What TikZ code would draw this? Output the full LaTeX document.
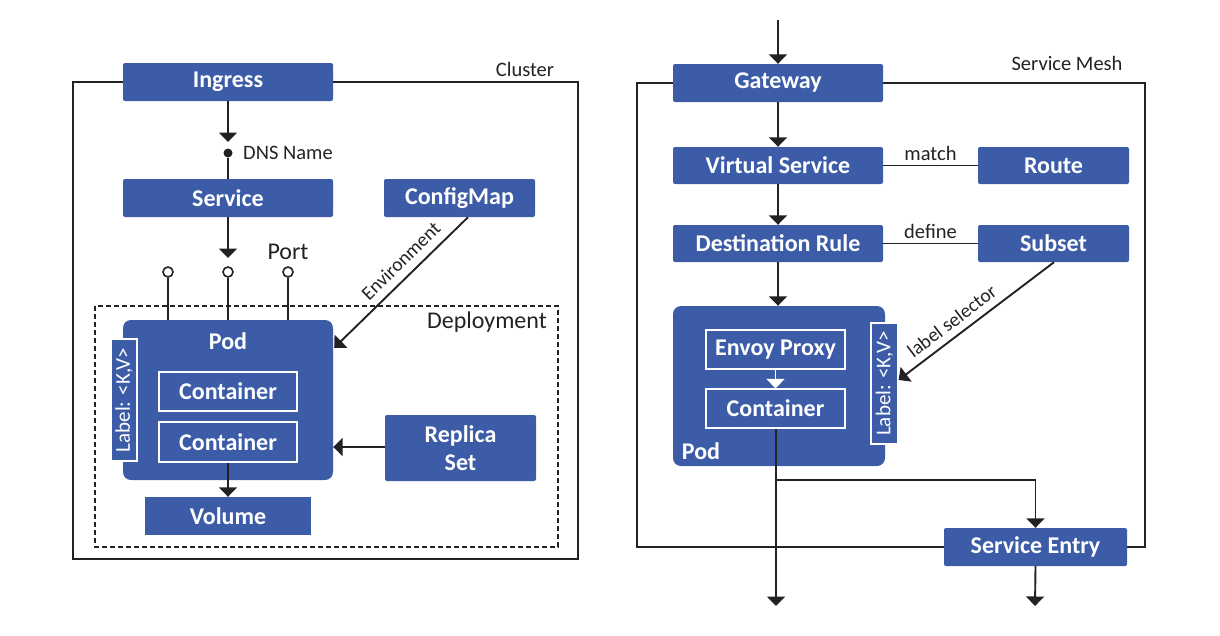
\documentclass[tikz,border=0pt]{standalone}
\usepackage{fontspec}
\setmainfont{Carlito}
\usetikzlibrary{arrows.meta,calc}
\definecolor{kblue}{HTML}{3D5CA8}
\definecolor{kline}{HTML}{222222}
\begin{document}
\begin{tikzpicture}[x=1pt,y=-1pt,
  sz/.style 2 args={minimum width=#1pt,minimum height=#2pt},
  box/.style={fill=kblue,text=white,inner sep=0pt,rounded corners=2pt,font=\fontsize{24}{28}\selectfont\bfseries},
  podbox/.style={fill=kblue,inner sep=0pt,rounded corners=8pt},
  inbox/.style={draw=white,line width=1.2pt,fill=kblue,text=white,inner sep=0pt,font=\fontsize{24}{28}\selectfont\bfseries},
  lblbox/.style={draw=white,line width=1.2pt,fill=kblue,text=white,inner sep=0pt,rotate=90,font=\fontsize{21}{23}\selectfont},
  lab/.style={inner sep=0pt,text=kline,font=\fontsize{20.5}{23}\selectfont},
  slab/.style={inner sep=0pt,text=kline,font=\fontsize{19.5}{22}\selectfont},
  biglab/.style={inner sep=0pt,text=kline,font=\fontsize{24}{26}\selectfont},
  conn/.style={draw=kline,line width=1.9pt},
  arr/.style={conn,-{Triangle[width=18pt,length=9.5pt]}},
  warr/.style={draw=white,line width=1.9pt,-{Triangle[width=18pt,length=9.5pt]}},
  frame/.style={draw=kline,line width=1.9pt},
  port/.style={circle,draw=kline,fill=white,line width=1.6pt,minimum size=10pt,inner sep=0pt},
  dot/.style={circle,fill=kline,minimum size=9pt,inner sep=0pt}
]
\useasboundingbox (0,0) rectangle (1220,635);

% ---------------- left: cluster ----------------
\draw[frame] (73,82) rectangle (578,559);
\draw[frame,dashed,line width=1.5pt,dash pattern=on 5pt off 3pt] (95,306) rectangle (558,547);
\node[lab] (cluster) at (525,69) {Cluster};
\node[biglab,anchor=east] (deploy) at (547,322) {Deployment};

\node[box,sz={210}{38}] (ingress) at (228,82) {Ingress};
\node[box,sz={210}{38}] (service) at (228,198) {Service};
\node[box,sz={151}{38}] (configmap) at (459.5,198) {ConfigMap};
\node[podbox,sz={210}{160}] (pod) at (228,400) {};
\node[inner sep=0pt,text=white,font=\fontsize{24}{28}\selectfont\bfseries] (podt) at (228,341) {Pod};
\node[lblbox,sz={122}{26}] (lbl1) at (124,400) {Label: <K,V>};
\node[inbox,sz={138}{39}] (c1) at (228,391.5) {Container};
\node[inbox,sz={138}{40}] (c2) at (228,442) {Container};
\node[box,rounded corners=0pt,sz={166}{38}] (volume) at (228,516) {Volume};
\node[box,sz={151}{66},align=center] (replica) at (460.5,448) {Replica\\Set};

\node[dot] (dns) at (228,153) {};
\node[lab,anchor=west] (dnst) at (243,153) {DNS Name};
\coordinate (dnstip) at (228,142);
\draw[arr] (ingress.south) -- (dnstip);
\draw[conn] (dns) -- (service.north);

\node[port] (p1) at (168,272) {};
\node[port] (p2) at (228,272) {};
\node[port] (p3) at (288,272) {};
\node[biglab] (portt) at (288,252) {Port};
\coordinate (srvtip) at (228,258);
\draw[arr] (service.south) -- (srvtip);
\draw[conn] (p1.south) -- (p1.south |- pod.north);
\draw[conn] (p2.south) -- (p2.south |- pod.north);
\draw[conn] (p3.south) -- (p3.south |- pod.north);

\draw[arr] ($(configmap.south)+(8.5,0)$) -- node[slab,pos=0.42,sloped,above=8pt] {Environment} ($(pod.north east)+(1,28)$);
\draw[arr] (replica.west |- 0,447) -- (pod.east |- 0,447);
\draw[arr] (c2.south) -- (volume.north);

% ---------------- right: service mesh ----------------
\draw[frame] (637,83) rectangle (1145,547);
\node[lab] (mesh) at (1067,63) {Service Mesh};

\node[box,sz={210}{38}] (gateway) at (778,83) {Gateway};
\node[box,sz={210}{37}] (vs) at (778,165.5) {Virtual Service};
\node[box,sz={151}{37}] (route) at (1053.5,165.5) {Route};
\node[box,sz={210}{37}] (dr) at (778,243.5) {Destination Rule};
\node[box,sz={151}{37}] (subset) at (1053.5,243.5) {Subset};
\node[podbox,sz={212}{160}] (pod2) at (779,386) {};
\node[inbox,sz={139}{39}] (envoy) at (775.5,349.5) {Envoy Proxy};
\node[inbox,sz={139}{39}] (c3) at (775.5,408.5) {Container};
\node[inner sep=0pt,text=white,font=\fontsize{24}{28}\selectfont\bfseries] (pod2t) at (701,451) {Pod};
\node[lblbox,sz={121}{27}] (lbl2) at (884.5,383.5) {Label: <K,V>};
\node[box,sz={183}{38}] (sentry) at (1035.5,547) {Service Entry};

\coordinate (topin) at (778,20);
\draw[arr] (topin) -- (gateway.north);
\draw[arr] (gateway.south) -- (vs.north);
\draw[arr] (vs.south) -- (dr.north);
\draw[arr] (dr.south) -- (dr.south |- pod2.north);
\draw[conn] (vs.east) -- node[lab,above=4pt] {match} (route.west);
\draw[conn] (dr.east) -- node[lab,above=4pt] {define} (subset.west);
\draw[warr] (envoy.south) -- (c3.north);
\draw[arr] ($(subset.south)+(0.5,0)$) -- node[slab,pos=0.6,sloped,above=7pt] {label selector} (lbl2.south |- 0,380);

\coordinate (out1) at (776,606);
\coordinate (branch) at (776,480);
\coordinate (out2) at (1035,606);
\draw[arr] (c3.south -| out1) -- (out1);
\draw[arr] (branch) -| (sentry.north);
\draw[arr] (sentry.south) -- (out2);
\end{tikzpicture}
\end{document}
